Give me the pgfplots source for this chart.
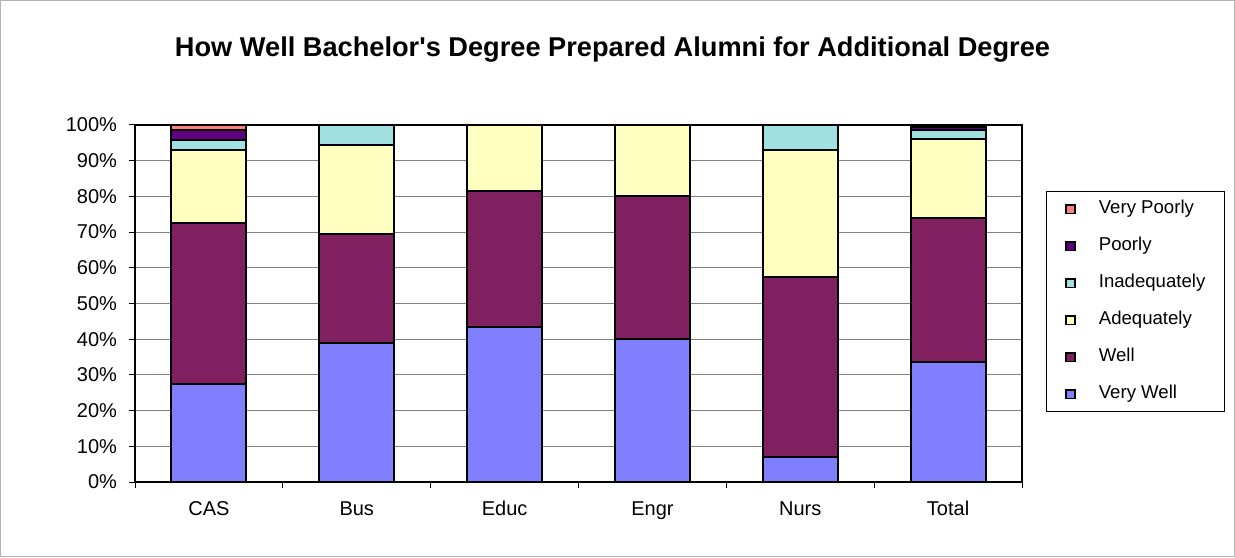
\documentclass[border=0pt]{standalone}
\usepackage{pgfplots}
\pgfplotsset{compat=1.18}
\usepackage{fontspec}
\setmainfont{Liberation Sans}
\definecolor{cVW}{HTML}{8080FF}
\definecolor{cW}{HTML}{802060}
\definecolor{cA}{HTML}{FFFFC0}
\definecolor{cI}{HTML}{A0E0E0}
\definecolor{cP}{HTML}{600080}
\definecolor{cVP}{HTML}{FF8080}
\begin{document}
\begin{tikzpicture}
\draw[draw=gray!60, line width=0.5pt] (0.25pt,0.25pt) rectangle (617.25pt,278.25pt);
\node[font=\bfseries\fontsize{13.6}{15}\selectfont, anchor=base] at (306.25pt,250.2pt) {How Well Bachelor\textquotesingle s Degree Prepared Alumni for Additional Degree};
\begin{axis}[
  at={(67.5pt,37.5pt)}, anchor=south west,
  width=443.5pt, height=178.5pt, scale only axis,
  ybar stacked, bar width=37.5pt,
  xmin=-0.5, xmax=5.5, ymin=0, ymax=100,
  xtick={-0.5,0.5,...,5.5}, x tick label as interval,
  xticklabels={CAS,Bus,Educ,Engr,Nurs,Total},
  ytick={0,10,...,100},
  yticklabel={\pgfmathprintnumber{\tick}\%},
  xtick pos=bottom, ytick pos=left,
  /pgf/number format/assume math mode=true,
  tick align=outside, major tick length=3pt,
  tick style={black, line width=0.5pt},
  ymajorgrids, grid style={gray, line width=0.5pt},
  axis line style={black, line width=0.8pt},
  ticklabel style={font=\fontsize{10}{12}\selectfont},
  xticklabel style={anchor=north, text height=7.2pt, text depth=1.5pt, yshift=-3pt},
  yticklabel style={xshift=-2.5pt},
  every axis plot/.append style={draw=black, line width=1pt},
  reverse legend,
  legend style={at={(1.027,0.815)}, anchor=north west, draw=black, line width=0.5pt,
    font=\fontsize{9.3}{11}\selectfont, inner xsep=9.5pt, inner ysep=4.5pt,
    row sep=9.8pt, column sep=0pt,
    nodes={inner sep=0pt, text height=6.7pt, text depth=2pt}},
  legend cell align=left,
  /tikz/every odd column/.append style={column sep=11.5pt},
  legend image code/.code={\draw[#1, draw=black, line width=0.8pt] (-2.2pt,-2.2pt) rectangle (2.2pt,2.2pt);},
]
\addplot[fill=cVW] coordinates {(0,27.5) (1,39) (2,43.5) (3,40) (4,7) (5,33.5)};
\addplot[fill=cW] coordinates {(0,45) (1,30.5) (2,38) (3,40) (4,50.5) (5,40.5)};
\addplot[fill=cA] coordinates {(0,20.5) (1,25) (2,18.5) (3,20) (4,35.5) (5,22.1)};
\addplot[fill=cI] coordinates {(0,2.8) (1,5.5) (2,0) (3,0) (4,7) (5,2.5)};
\addplot[fill=cP] coordinates {(0,2.8) (1,0) (2,0) (3,0) (4,0) (5,0.8)};
\addplot[fill=cVP] coordinates {(0,1.4) (1,0) (2,0) (3,0) (4,0) (5,0.6)};
\legend{Very Well,Well,Adequately,Inadequately,Poorly,Very Poorly}
\end{axis}
\end{tikzpicture}
\end{document}
